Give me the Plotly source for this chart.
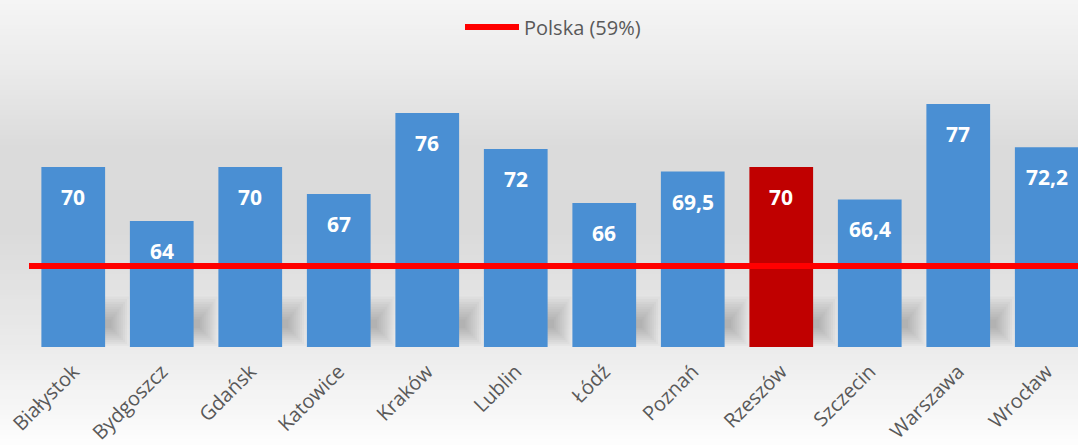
import plotly.graph_objects as go
import numpy as np

cities = ["Białystok", "Bydgoszcz", "Gdańsk", "Katowice", "Kraków", "Lublin",
          "Łódź", "Poznań", "Rzeszów", "Szczecin", "Warszawa", "Wrocław"]
values = [70, 64, 70, 67, 76, 72, 66, 69.5, 70, 66.4, 77, 72.2]
labels = ["70", "64", "70", "67", "76", "72", "66", "69,5", "70", "66,4", "77", "72,2"]
highlight = "Rzeszów"
poland_value = 59
poland_name = "Polska (59%)"

W, H = 1078, 445
ML, MR, MT, MB = 29, 0, 32, 98
PW, PH = W - ML - MR, H - MT - MB
SLOT = 88.5
BARGAP = 0.28
HALF = (1 - BARGAP) / 2

bar_colors = ["#c00000" if c == highlight else "#4a8fd3" for c in cities]

fig = go.Figure()
fig.add_trace(go.Bar(
    x=cities, y=values, marker=dict(color=bar_colors, line=dict(width=0)),
    showlegend=False, hoverinfo="skip", cliponaxis=True,
))
fig.add_trace(go.Scatter(
    x=cities, y=[poland_value] * len(cities), xaxis="x2", mode="lines",
    line=dict(color="#ff0000", width=6), name=poland_name, showlegend=False,
    hoverinfo="skip",
))

for c, v, t in zip(cities, values, labels):
    fig.add_annotation(x=c, y=v, text=t, showarrow=False, yanchor="middle",
                       yshift=-30, font=dict(family="Open Sans", size=21, color="white", weight="bold"))

def px_to_py(p):
    return (H - MB - p) / PH

def px_to_px(p):
    return (p - ML) / PW

# background gradient (vertical)
stops_px = [0, 60, 150, 230, 340, 445]
stops_col = [245, 236, 219, 218, 234, 253]
n = 89
for i in range(n):
    p0 = i * H / n
    p1 = (i + 1) * H / n
    g = int(round(np.interp((p0 + p1) / 2, stops_px, stops_col)))
    fig.add_shape(type="rect", xref="paper", yref="paper", layer="below",
                  x0=px_to_px(0) - 0.01, x1=1.01,
                  y0=px_to_py(p1), y1=px_to_py(p0) + 0.001,
                  fillcolor=f"rgb({g},{g},{g})", line=dict(width=0))

# soft shadows in the gaps behind the bars
NS = 10
for i in range(len(cities)):
    for k in range(NS):
        fig.add_shape(type="rect", xref="x", yref="y", layer="below",
                      x0=i + HALF - 0.05, x1=i + HALF + 0.27 - 0.022 * k,
                      y0=50.1 + 0.22 * k, y1=55.6 - 0.28 * k,
                      fillcolor="rgba(0,0,0,0.024)", line=dict(width=0))

# legend (drawn manually to match the long line sample)
fig.add_shape(type="line", xref="paper", yref="paper",
              x0=px_to_px(465), x1=px_to_px(519), y0=px_to_py(27), y1=px_to_py(27),
              line=dict(color="#ff0000", width=6))
fig.add_annotation(xref="paper", yref="paper", x=px_to_px(522), y=px_to_py(27),
                   xanchor="left", yanchor="middle", showarrow=False, text=poland_name,
                   font=dict(family="Open Sans", size=20, color="#595959"))

fig.update_layout(
    width=W, height=H,
    margin=dict(l=ML, r=MR, t=MT, b=MB, autoexpand=False),
    paper_bgcolor="#eeeeee", plot_bgcolor="rgba(0,0,0,0)",
    bargap=BARGAP,
    xaxis=dict(range=[-0.5, -0.5 + PW / SLOT], showgrid=False, showline=False, zeroline=False,
               ticks="", tickangle=-45, ticklabelstandoff=8, automargin=False,
               tickfont=dict(family="Open Sans", size=20, color="#595959")),
    xaxis2=dict(overlaying="x", range=[0, len(cities) - 1], visible=False),
    yaxis=dict(range=[50, 85], visible=False, automargin=False),
    showlegend=False,
    hovermode=False,
    font=dict(family="Open Sans"),
)
fig.write_html("out.html", config={"displayModeBar": False},
               post_script="document.body.style.margin='0';document.body.style.overflow='hidden';")
